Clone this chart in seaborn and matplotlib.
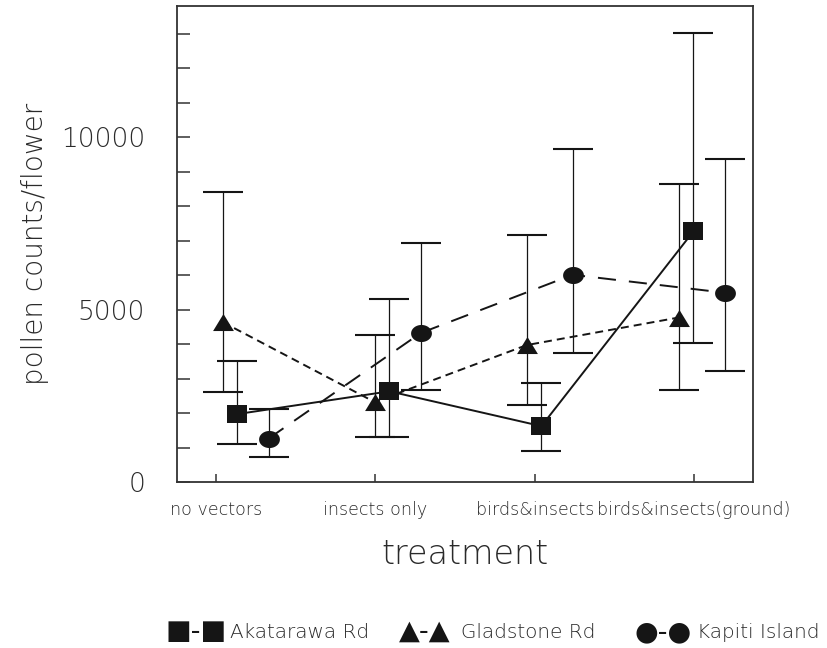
import numpy as np
import pandas as pd
import matplotlib
matplotlib.use("Agg")
import matplotlib.pyplot as plt
import seaborn as sns
from matplotlib.path import Path
from matplotlib.markers import MarkerStyle
from matplotlib.ticker import FixedLocator, MultipleLocator

# ---------------- data ----------------
treatments = ["no vectors", "insects only", "birds&insects", "birds&insects(ground)"]
sites = ["Akatarawa Rd", "Gladstone Rd", "Kapiti Island"]

akatarawa_mean = [1970, 2630, 1620, 7270]
akatarawa_low = [1090, 1310, 890, 4040]
akatarawa_high = [3510, 5320, 2880, 13020]

gladstone_mean = [4640, 2320, 3970, 4770]
gladstone_low = [2610, 1310, 2230, 2680]
gladstone_high = [8410, 4250, 7150, 8630]

kapiti_mean = [1260, 4320, 6010, 5490]
kapiti_low = [730, 2680, 3730, 3210]
kapiti_high = [2110, 6930, 9670, 9380]

y_major = [0, 5000, 10000]
y_tick_labels = ["0", "5000", "10000"]

# ---------------- layout (positions / styles) ----------------
point_step = 0.954
site_offset = {"Akatarawa Rd": 0.134, "Gladstone Rd": 0.041, "Kapiti Island": 0.330}

means = {"Akatarawa Rd": akatarawa_mean, "Gladstone Rd": gladstone_mean, "Kapiti Island": kapiti_mean}
lows = {"Akatarawa Rd": akatarawa_low, "Gladstone Rd": gladstone_low, "Kapiti Island": kapiti_low}
highs = {"Akatarawa Rd": akatarawa_high, "Gladstone Rd": gladstone_high, "Kapiti Island": kapiti_high}

rows = []
for s in sites:
    for i, t in enumerate(treatments):
        rows.append({"site": s, "treatment": t, "idx": i,
                     "x": i * point_step + site_offset[s],
                     "mean": means[s][i], "low": lows[s][i], "high": highs[s][i]})
df = pd.DataFrame(rows)

asp = 0.82
sq = Path([(-1, -asp), (1, -asp), (1, asp), (-1, asp), (-1, -asp)], closed=True)
tri = Path([(0, asp), (-1, -asp), (1, -asp), (0, asp)], closed=True)
tt = np.linspace(0, 2 * np.pi, 60)
ell = Path(np.column_stack([np.cos(tt), asp * np.sin(tt)]), closed=True)
marker_map = {"Akatarawa Rd": MarkerStyle(sq), "Gladstone Rd": MarkerStyle(tri),
              "Kapiti Island": MarkerStyle(ell)}
dash_map = {"Akatarawa Rd": "", "Gladstone Rd": (4.1, 2.6), "Kapiti Island": (9.3, 6.7)}

INK = "#151515"
TXT = "#2a2a2a"
TXT_W = "light"

sns.set_style("ticks")
plt.rcParams["font.family"] = ["DejaVu Sans"]

fig = plt.figure(figsize=(8.27, 6.48), dpi=100)
ax = fig.add_axes([177 / 827, 1 - 482 / 648, (753 - 177) / 827, (482 - 5.5) / 648])

# error bars (behind markers)
for s in sites:
    d = df[df.site == s]
    ax.errorbar(d["x"], d["mean"], yerr=[d["mean"] - d["low"], d["high"] - d["mean"]],
                fmt="none", ecolor=INK, elinewidth=0.9, capsize=14.5, capthick=1.5, zorder=1.5)

sns.lineplot(data=df, x="x", y="mean", hue="site", style="site",
             palette={s: INK for s in sites}, markers=marker_map, dashes=dash_map,
             markersize=15, markeredgewidth=0, linewidth=1.4, legend=False,
             estimator=None, sort=True, ax=ax, zorder=2)

ax.set_xlim(-0.245, 3.37)
ax.set_ylim(0, 13820)
ax.xaxis.set_major_locator(FixedLocator(range(len(treatments))))
ax.set_xticklabels(treatments, fontweight=TXT_W)
ax.yaxis.set_major_locator(FixedLocator(y_major))
ax.set_yticklabels(y_tick_labels, fontweight=TXT_W)
ax.yaxis.set_minor_locator(MultipleLocator(1000))

ax.tick_params(axis="y", which="both", direction="in", length=9.5, width=1.1,
               color="#333333", labelsize=19, labelcolor=TXT, pad=23, right=False)
ax.tick_params(axis="x", which="both", direction="in", length=6, width=1.1,
               color="#333333", labelsize=12.6, labelcolor=TXT, pad=14, top=False)
for sp in ax.spines.values():
    sp.set_visible(True)
    sp.set_color("#333333")
    sp.set_linewidth(1.3)

ax.set_xlabel("treatment", fontsize=24, color=TXT, fontweight=TXT_W)
ax.set_ylabel("pollen counts/flower", fontsize=20, color=TXT, fontweight=TXT_W)
ax.xaxis.set_label_coords(0.5, (482 - 555) / 477)
ax.xaxis.label.set_va("center")
ax.yaxis.set_label_coords((35 - 177) / 576, 0.5)
ax.yaxis.label.set_va("center")

# legend row
glyphs = {"Akatarawa Rd": "\u25A0-\u25A0", "Gladstone Rd": "\u25B2-\u25B2", "Kapiti Island": "\u25CF-\u25CF"}
glyph_x = {"Akatarawa Rd": 166, "Gladstone Rd": 399, "Kapiti Island": 634}
label_x = {"Akatarawa Rd": 230, "Gladstone Rd": 461, "Kapiti Island": 697}
for s in sites:
    fig.text(glyph_x[s] / 827, 1 - 632 / 648, glyphs[s], fontsize=19.5, color=INK,
             family=["DejaVu Sans"], fontweight="normal", va="center", ha="left")
    fig.text(label_x[s] / 827, 1 - 632 / 648, s, fontsize=14.4, color=TXT,
             fontweight=TXT_W, va="center", ha="left")

fig.savefig("out.png", dpi=100, facecolor="white")
